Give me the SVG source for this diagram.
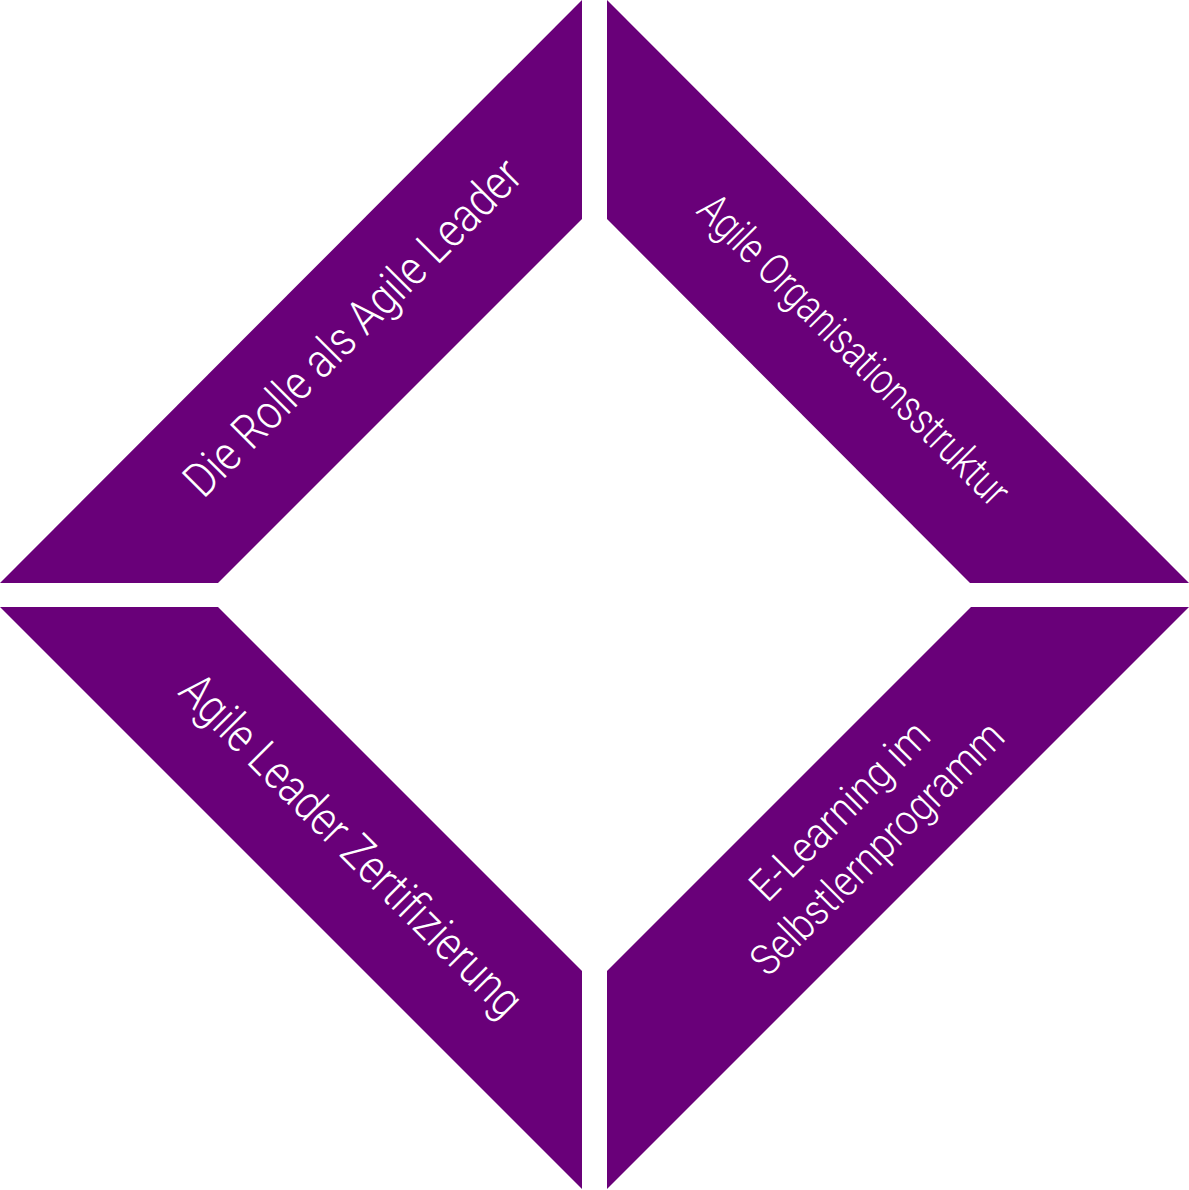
<svg xmlns="http://www.w3.org/2000/svg" width="1189" height="1190" viewBox="0 0 1189 1190">
<style>
.band{fill:#690079;}
.lbl{fill:#ffffff;font-family:Roboto,"Liberation Sans",sans-serif;font-weight:300;text-anchor:middle;}
</style>
<rect width="1189" height="1190" fill="#ffffff"/>
<g id="connectors"></g>
<g id="node-tl">
<polygon class="band" points="0,583 582,0 582,219 218,583"/>
<text class="lbl" font-size="48" transform="translate(364,339) rotate(-45)" x="0" y="0" textLength="455" lengthAdjust="spacingAndGlyphs">Die Rolle als Agile Leader</text>
</g>
<g id="node-tr">
<polygon class="band" points="607,0 1189,583 970,583 607,219"/>
<text class="lbl" font-size="44" transform="translate(843.5,360.5) rotate(45)" x="0" y="0" textLength="420" lengthAdjust="spacingAndGlyphs">Agile Organisationsstruktur</text>
</g>
<g id="node-bl">
<polygon class="band" points="0,607 218,607 582,971 582,1189"/>
<text class="lbl" font-size="48" transform="translate(340,856.7) rotate(45)" x="0" y="0" textLength="462" lengthAdjust="spacingAndGlyphs">Agile Leader Zertifizierung</text>
</g>
<g id="node-br">
<polygon class="band" points="607,971 971,607 1189,607 607,1189"/>
<text class="lbl" font-size="43" transform="translate(850,821) rotate(-45)" x="0" y="0" textLength="234" lengthAdjust="spacingAndGlyphs">E-Learning im</text>
<text class="lbl" font-size="43" transform="translate(887.5,858.5) rotate(-45)" x="0" y="0" textLength="338" lengthAdjust="spacingAndGlyphs">Selbstlernprogramm</text>
</g>
</svg>
